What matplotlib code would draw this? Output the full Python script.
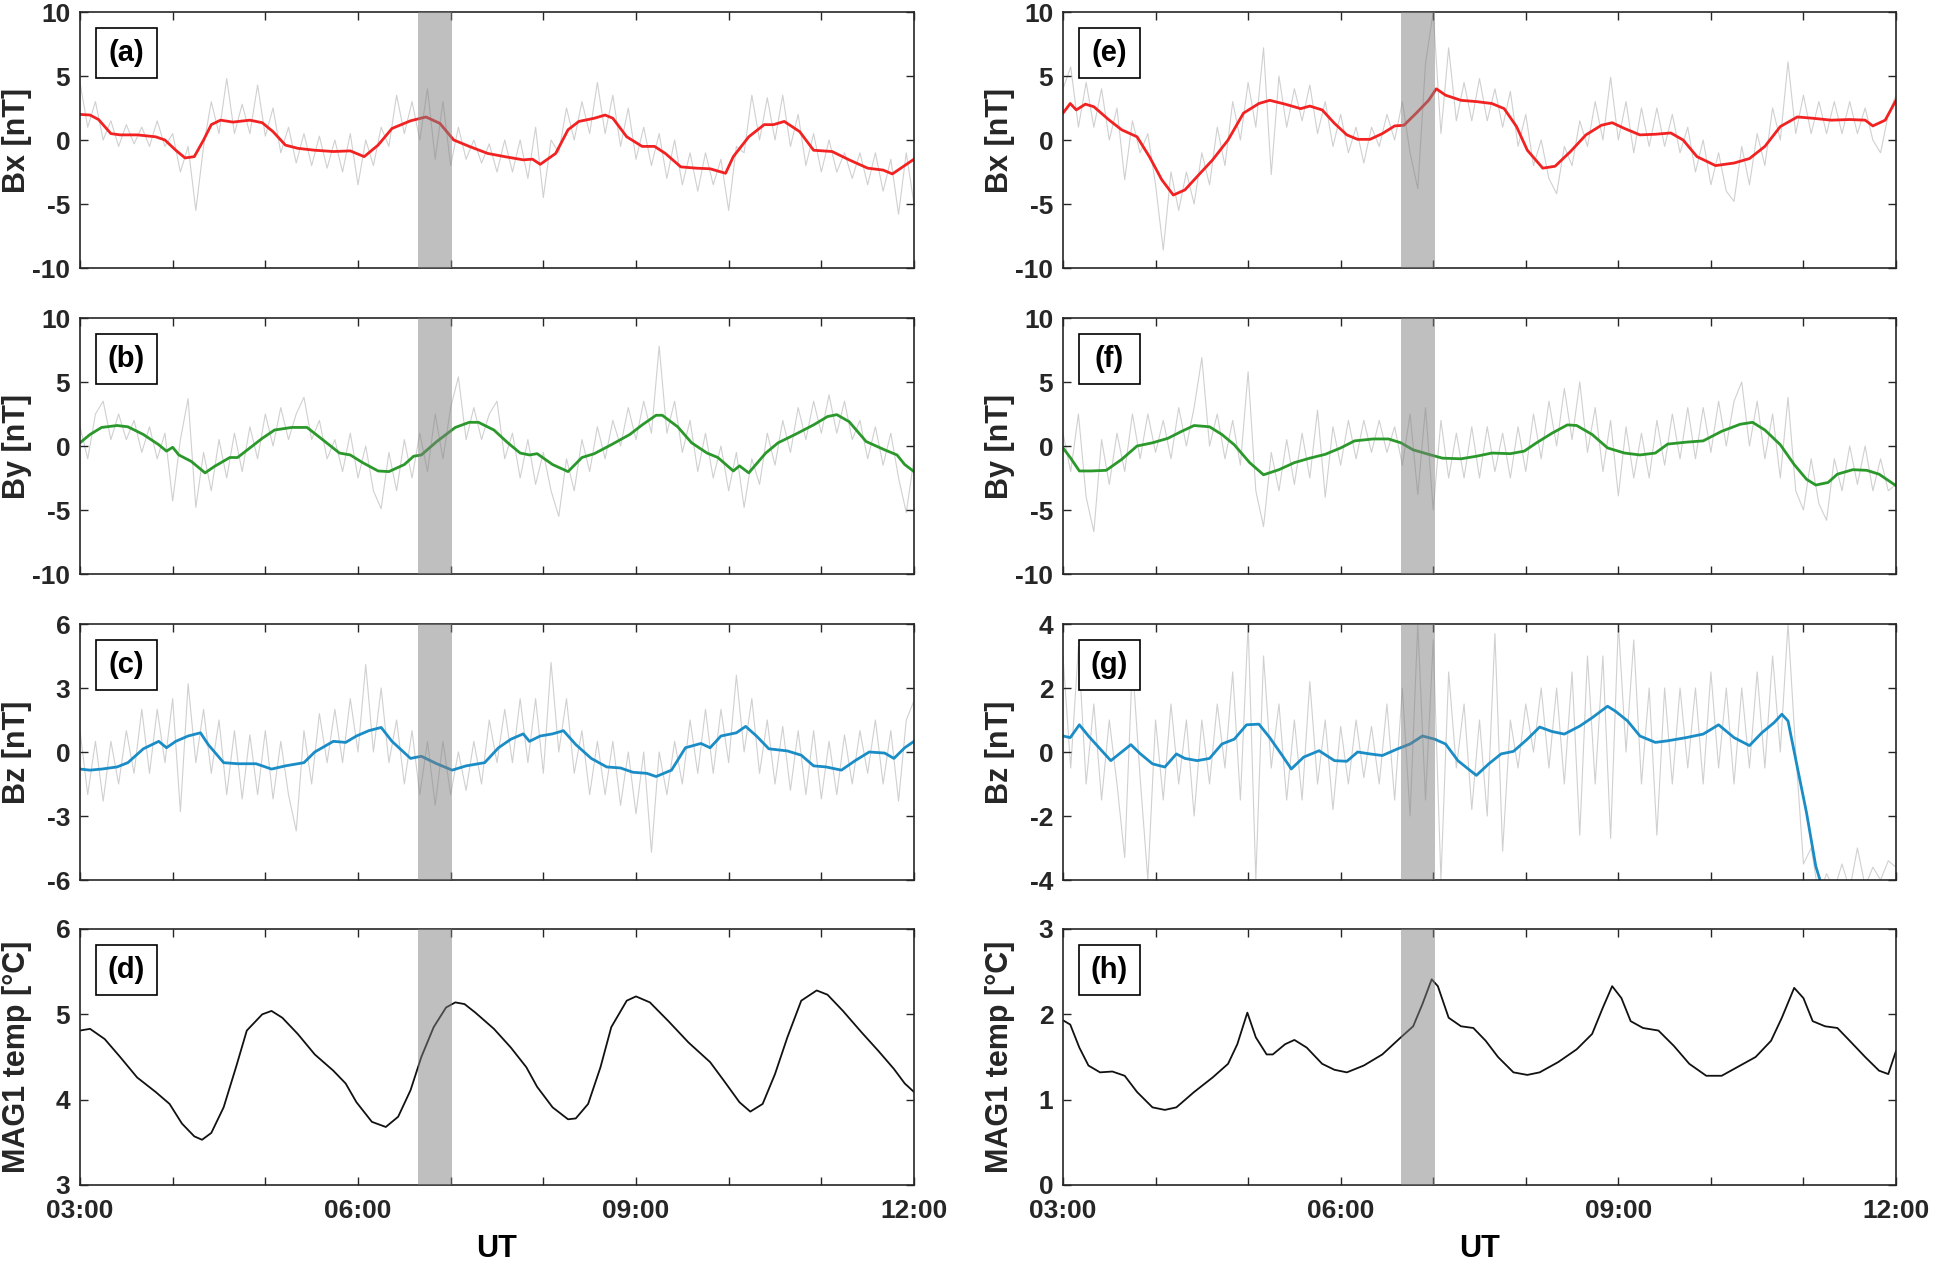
import matplotlib
matplotlib.use("Agg")
import matplotlib.pyplot as plt
from matplotlib.patches import Rectangle

plt.rcParams['font.family'] = ['Liberation Sans', 'DejaVu Sans']
plt.rcParams['font.weight'] = 'bold'

# ---------------- data (minutes after 03:00 UT) ----------------
span_start, span_end = 219, 241
xtick_pos = [0, 60, 120, 180, 240, 300, 360, 420, 480, 540]
xtick_lab = ['03:00', '', '', '06:00', '', '', '09:00', '', '', '12:00']
gray_t = list(range(0, 541, 5))

# panel (a) Bx left
a_t = [0, 6.5, 12, 20, 26, 37, 49, 55, 62, 68, 74, 80, 85, 91, 99, 110, 118, 125, 133, 141, 152, 164, 175, 184, 193,
       202, 214, 224, 233, 242, 252, 264, 275, 287, 293, 298, 308, 316, 323, 333, 340, 345, 354, 364, 372, 379, 389,
       399, 408, 418, 423, 433, 443, 449, 456, 466, 475, 487, 498, 510, 520, 526, 540]
a_v = [2.0, 1.95, 1.6, 0.5, 0.4, 0.4, 0.25, 0.0, -0.8, -1.4, -1.3, 0.0, 1.2, 1.55, 1.4, 1.55, 1.35, 0.65, -0.4, -0.65,
       -0.8, -0.9, -0.85, -1.3, -0.4, 0.9, 1.5, 1.8, 1.3, 0.0, -0.5, -1.05, -1.3, -1.55, -1.5, -1.9, -1.05, 0.8, 1.45,
       1.7, 1.95, 1.7, 0.25, -0.5, -0.5, -1.05, -2.1, -2.2, -2.25, -2.6, -1.3, 0.25, 1.2, 1.2, 1.45, 0.65, -0.8, -0.9,
       -1.55, -2.2, -2.35, -2.65, -1.5]
a_gray = [4.5, 1.0, 3.0, 0.0, 1.5, -0.5, 1.2, -0.3, 1.0, -0.5,
          1.5, -0.5, 0.5, -2.5, -0.5, -5.5, -0.5, 3.0, 0.5, 4.8,
          0.5, 2.8, 0.5, 4.3, 0.3, 2.5, -1.0, 1.0, -1.8, 0.5,
          -2.0, 0.3, -2.2, 0.0, -2.5, 0.5, -3.5, 0.0, -2.0, 1.0,
          -0.5, 3.5, 0.5, 3.0, 0.0, 4.0, -1.5, 3.0, -2.0, 1.0,
          -1.5, 0.0, -1.8, -0.3, -2.5, 0.0, -2.5, 0.0, -3.0, 1.0,
          -4.5, 0.0, -1.0, 2.5, 0.0, 3.0, 0.5, 4.5, 0.5, 3.5,
          -0.5, 2.5, -1.5, 1.0, -2.0, 0.5, -3.0, 0.0, -3.5, -1.0,
          -4.0, -1.0, -3.5, -1.5, -5.5, -0.5, -1.0, 3.5, 0.0, 3.3,
          0.0, 3.5, -0.5, 2.0, -2.0, 0.5, -2.5, 0.0, -2.5, -1.0,
          -3.0, -1.0, -3.5, -1.0, -4.0, -1.5, -5.8, -1.0, -5.0]

# panel (b) By left
b_t = [0, 6.5, 14, 24, 31, 41, 51, 56, 60, 64, 72, 81, 87, 97, 102, 110, 118, 126, 137, 147, 156, 168, 175, 183, 193,
       200, 210, 216, 221, 231, 243, 252, 258, 268, 277, 285, 291, 296, 306, 316, 325, 333, 344, 356, 364, 373, 377,
       387, 396, 406, 413, 423, 427, 433, 444, 452, 463, 475, 484, 490, 498, 509, 521, 529, 534, 540]
b_v = [0.25, 0.9, 1.45, 1.6, 1.5, 0.9, 0.1, -0.4, -0.1, -0.7, -1.2, -2.1, -1.6, -0.9, -0.9, -0.15, 0.6, 1.25, 1.45,
       1.45, 0.6, -0.55, -0.7, -1.3, -1.95, -2.0, -1.45, -0.8, -0.7, 0.35, 1.45, 1.85, 1.85, 1.25, 0.25, -0.55, -0.7,
       -0.6, -1.45, -2.0, -0.9, -0.6, 0.1, 0.9, 1.65, 2.4, 2.4, 1.5, 0.25, -0.55, -0.9, -1.95, -1.55, -2.1, -0.55,
       0.25, 0.9, 1.65, 2.3, 2.45, 1.9, 0.35, -0.3, -0.7, -1.45, -2.0]
b_gray = [1.5, -1.0, 2.5, 3.5, 0.5, 2.5, 0.5, 2.0, -0.5, 1.5,
          -1.0, 1.0, -4.3, 0.5, 3.7, -4.8, -0.5, -3.5, 0.5, -2.5,
          1.0, -2.0, 1.5, -1.0, 2.5, 0.0, 3.0, 0.5, 2.5, 3.8,
          0.5, 2.0, -1.0, 0.5, -2.0, 1.0, -2.5, 0.0, -3.5, -4.9,
          -0.5, -3.5, 0.5, -2.5, 1.0, -2.0, 2.5, -1.0, 3.0, 5.4,
          0.5, 3.0, 0.5, 2.5, 3.5, -1.0, 1.0, -2.5, 0.5, -3.0,
          -0.5, -3.5, -5.5, -1.0, -3.5, 0.5, -2.0, 1.5, -1.0, 2.0,
          0.0, 3.0, 0.5, 3.5, 1.0, 7.8, 1.0, 3.5, -0.5, 2.0,
          -2.0, 1.0, -2.5, 0.0, -3.5, -0.5, -4.8, -1.0, -3.0, 1.0,
          -1.5, 2.0, -0.5, 3.0, 0.5, 3.5, 1.0, 4.0, 1.0, 3.5,
          0.5, 2.0, -1.0, 1.5, -1.5, 1.0, -2.5, -5.2, -1.0]

# panel (c) Bz left
c_t = [0, 6.5, 14, 24, 31, 41, 51, 56, 62, 70, 78, 83, 93, 102, 114, 124, 133, 145, 152, 164, 172, 179, 187, 195, 202,
       214, 221, 231, 241, 250, 262, 271, 279, 287, 291, 298, 306, 313, 321, 331, 341, 350, 358, 367, 373, 383, 392,
       402, 408, 415, 425, 431, 438, 446, 458, 467, 475, 483, 493, 502, 511, 521, 527, 534, 540]
c_v = [-0.8, -0.85, -0.8, -0.7, -0.5, 0.15, 0.5, 0.2, 0.5, 0.75, 0.9, 0.35, -0.5, -0.55, -0.55, -0.8, -0.65, -0.5,
       0.0, 0.5, 0.45, 0.75, 1.0, 1.15, 0.5, -0.3, -0.2, -0.55, -0.85, -0.65, -0.5, 0.2, 0.6, 0.85, 0.5, 0.75, 0.85,
       1.0, 0.35, -0.3, -0.7, -0.75, -0.95, -1.0, -1.15, -0.85, 0.2, 0.4, 0.2, 0.75, 0.9, 1.2, 0.75, 0.15, 0.05, -0.15,
       -0.65, -0.7, -0.85, -0.4, 0.0, -0.05, -0.3, 0.2, 0.5]
c_gray = [1.0, -2.0, 0.5, -2.3, 0.5, -1.5, 1.0, -1.0, 2.0, -1.0,
          2.0, -0.5, 2.5, -2.8, 3.2, -0.5, 2.0, -1.0, 1.5, -2.0,
          1.0, -2.2, 0.8, -2.0, 1.0, -2.2, 0.5, -2.0, -3.7, 1.0,
          -1.5, 1.8, -0.5, 2.0, -0.5, 2.5, 0.0, 4.1, 0.0, 3.0,
          -0.5, 1.5, -1.5, 1.0, -2.0, 0.5, -2.5, 0.5, -2.0, 0.0,
          -1.8, 0.5, -1.5, 1.5, -0.5, 2.0, -0.5, 2.5, -0.5, 2.5,
          -1.0, 4.2, 0.0, 2.5, -1.0, 1.0, -2.0, 0.5, -2.0, 0.5,
          -2.5, 0.0, -2.9, 0.0, -4.7, 0.0, -2.0, 0.5, -1.5, 1.5,
          -1.0, 2.0, -1.0, 2.0, -0.5, 3.6, 0.0, 2.5, -1.0, 1.5,
          -1.5, 1.2, -1.8, 1.0, -2.0, 1.0, -2.2, 0.5, -2.0, 0.8,
          -1.5, 1.0, -1.0, 1.5, -1.5, 1.0, -2.3, 1.5, 2.4]

# panel (d) MAG1 temp left
d_t = [0, 6.5, 16, 26, 37, 49, 58, 66, 74, 79, 85, 93, 101, 108, 118, 124, 131, 141, 152, 164, 172, 179, 189, 198, 206,
       214, 221, 229, 237, 243, 249, 256, 268, 279, 289, 296, 306, 316, 321, 329, 337, 344, 354, 360, 369, 381, 394,
       408, 417, 427, 434, 442, 450, 458, 467, 477, 484, 494, 506, 517, 527, 534, 540]
d_v = [4.81, 4.83, 4.71, 4.5, 4.26, 4.09, 3.95, 3.72, 3.57, 3.53, 3.61, 3.91, 4.38, 4.81, 5.0, 5.04, 4.96, 4.77, 4.53,
       4.34, 4.19, 3.97, 3.74, 3.68, 3.8, 4.11, 4.5, 4.85, 5.08, 5.14, 5.12, 5.02, 4.83, 4.61, 4.38, 4.15, 3.91, 3.77,
       3.78, 3.95, 4.38, 4.85, 5.16, 5.21, 5.14, 4.92, 4.67, 4.44, 4.22, 3.97, 3.86, 3.95, 4.3, 4.73, 5.16, 5.28, 5.23,
       5.04, 4.79, 4.57, 4.36, 4.19, 4.09]

# panel (e) Bx right
e_t = [0, 4.7, 8.6, 14.5, 20, 30, 38, 48, 56, 64, 71.5, 79, 87, 97, 107, 117, 127, 134, 144, 154, 160, 168, 176, 184,
       191, 199, 207, 215, 221, 229, 237, 242, 248, 258, 268, 278, 286, 294, 301, 311, 319, 329, 339, 349, 356, 364,
       374, 384, 394, 402, 411, 423, 435, 445, 455, 465, 476, 486, 498, 510, 520, 525, 533, 540]
e_v = [2.1, 2.85, 2.35, 2.8, 2.6, 1.55, 0.8, 0.25, -1.3, -3.1, -4.3, -3.9, -2.85, -1.55, 0.0, 2.1, 2.85, 3.1, 2.8,
       2.45, 2.65, 2.35, 1.3, 0.4, 0.05, 0.05, 0.5, 1.1, 1.15, 2.1, 3.1, 4.0, 3.5, 3.1, 3.0, 2.85, 2.45, 1.05, -0.8,
       -2.2, -2.05, -0.9, 0.4, 1.15, 1.35, 0.9, 0.4, 0.45, 0.55, 0.0, -1.3, -2.0, -1.8, -1.45, -0.5, 1.05, 1.8, 1.7,
       1.55, 1.6, 1.55, 1.1, 1.55, 3.1]
e_gray = [4.0, 5.7, 1.0, 4.5, 1.0, 4.0, 0.0, 2.5, -3.1, 1.5,
          -1.0, 0.5, -3.5, -8.6, -2.5, -5.5, -2.5, -5.0, -1.0, -3.5,
          1.0, -2.0, 3.0, 0.0, 4.5, 1.0, 7.2, -2.7, 5.0, 1.0,
          4.0, 1.5, 4.3, 0.5, 3.0, -0.5, 2.0, -1.0, 1.0, -1.8,
          1.0, -0.5, 2.0, 0.0, 3.0, -1.0, -3.8, 6.0, 10.0, 0.5,
          7.2, 1.5, 4.5, 1.5, 4.8, 1.5, 4.0, 1.0, 3.8, -0.5,
          2.0, -2.0, 0.0, -3.0, -4.2, -0.5, -2.0, 1.5, -0.5, 3.0,
          0.0, 4.9, 0.0, 3.0, -1.0, 2.5, -0.5, 2.5, -0.5, 2.0,
          -1.0, 1.0, -2.5, 0.0, -3.5, -1.0, -4.0, -4.8, -0.5, -3.5,
          0.5, -2.0, 2.5, 0.0, 6.1, 0.5, 3.5, 0.5, 3.0, 0.5,
          3.0, 0.5, 3.0, 0.5, 2.5, 0.0, -1.0, 2.0, 3.5]

# panel (f) By right
f_t = [0, 4.7, 10.6, 18.5, 28, 38, 48, 58, 68, 77, 85, 95, 103, 111, 121, 130, 140, 150, 160, 170, 180, 189, 201, 211,
       219, 227, 237, 246, 258, 268, 278, 290, 299, 307, 317, 327, 333, 343, 353, 364, 374, 384, 392, 404, 415, 427,
       439, 447, 455, 465, 474, 482, 488, 496, 502, 512, 521, 529, 540]
f_v = [-0.15, -0.9, -1.95, -1.95, -1.9, -1.05, 0.0, 0.25, 0.6, 1.15, 1.6, 1.5, 0.9, 0.1, -1.3, -2.25, -1.85, -1.3,
       -0.95, -0.65, -0.15, 0.4, 0.55, 0.55, 0.25, -0.3, -0.65, -0.95, -1.0, -0.8, -0.55, -0.6, -0.4, 0.25, 1.0, 1.65,
       1.6, 0.9, -0.15, -0.55, -0.7, -0.55, 0.15, 0.3, 0.4, 1.15, 1.7, 1.85, 1.25, 0.1, -1.45, -2.6, -3.05, -2.85,
       -2.2, -1.85, -1.9, -2.2, -3.1]
f_gray = [1.0, -2.0, 2.5, -4.0, -6.7, 0.5, -3.0, 1.0, -2.0, 2.5,
          -1.0, 2.5, -0.5, 2.0, -1.0, 3.0, 0.0, 3.0, 6.9, 0.0,
          2.5, -1.0, 2.0, -1.5, 5.8, -3.5, -6.3, -0.5, -3.5, 0.5,
          -3.0, 1.0, -2.5, 2.8, -4.0, 1.5, -1.5, 2.0, -1.0, 2.0,
          -0.5, 2.0, -0.5, 1.5, -1.5, 2.5, -3.8, 3.0, -5.0, 2.0,
          -2.5, 1.0, -2.5, 1.5, -2.5, 1.5, -2.0, 1.0, -2.5, 1.5,
          -2.0, 2.5, -1.0, 3.5, 0.0, 4.5, 0.5, 5.0, -0.5, 3.0,
          -2.0, 2.0, -3.9, 1.5, -2.5, 1.0, -2.5, 2.0, -1.5, 2.5,
          -1.0, 3.0, -1.0, 3.0, -0.5, 3.5, 0.0, 3.5, 5.0, 0.0,
          3.5, -1.0, 2.5, -2.5, 3.8, -3.5, -5.0, -1.0, -4.5, -5.8,
          -1.0, -3.5, 0.0, -3.0, 0.0, -3.5, -1.0, -3.5, -3.0]

# panel (g) Bz right
g_t = [0, 4.7, 10.6, 16.5, 24, 31, 38, 44, 50, 58, 66, 73.5, 79, 87, 95, 103, 111, 119, 127, 134, 142, 148, 156, 166,
       176, 184, 191, 199, 207, 217, 225, 233, 241, 248, 256, 264, 268, 276, 284, 292, 301, 309, 317, 325, 335, 343,
       353, 358, 366, 374, 384, 392, 404, 415, 425, 435, 445, 453, 461, 466, 470, 476, 482, 488, 492, 500, 540]
g_v = [0.5, 0.45, 0.85, 0.5, 0.1, -0.27, 0.0, 0.23, -0.05, -0.37, -0.47, -0.06, -0.2, -0.27, -0.2, 0.25, 0.4, 0.85,
       0.87, 0.45, -0.1, -0.53, -0.16, 0.04, -0.27, -0.29, 0.0, -0.06, -0.11, 0.1, 0.25, 0.5, 0.4, 0.25, -0.27, -0.58,
       -0.73, -0.37, -0.06, 0.02, 0.4, 0.78, 0.64, 0.56, 0.81, 1.07, 1.43, 1.28, 0.97, 0.5, 0.3, 0.35, 0.45, 0.56,
       0.85, 0.45, 0.2, 0.6, 0.92, 1.18, 0.97, -0.47, -1.9, -3.57, -4.2, -5.0, -5.0]
g_gray = [3.0, -0.5, 3.3, -1.0, 1.5, -1.5, 1.0, -1.0, -3.3, 2.8,
          -0.8, -4.0, 1.0, -1.5, 1.5, -1.0, 1.0, -2.0, 1.0, -1.0,
          1.5, -0.5, 2.5, -1.5, 4.0, -4.0, 3.0, -0.5, 1.5, -1.5,
          1.0, -1.5, 2.2, -1.0, 1.0, -1.8, 0.8, -1.0, 1.0, -0.8,
          0.8, -1.0, 1.5, -1.5, 2.0, -2.0, 4.0, -1.5, 3.5, -4.0,
          2.5, -0.5, 1.5, -1.8, 1.0, -2.0, 3.7, -3.1, 1.0, -0.5,
          1.5, 0.0, 2.0, -0.5, 2.0, -1.0, 2.5, -2.6, 3.0, -1.0,
          3.0, -2.7, 4.0, 0.0, 3.5, -1.0, 2.0, -2.6, 2.0, -1.0,
          2.0, -0.5, 2.0, -1.0, 2.5, -0.5, 2.0, -1.0, 2.0, -0.5,
          2.5, -0.5, 3.0, 0.0, 4.0, 0.0, -3.5, -3.0, -4.5, -3.8,
          -4.3, -3.5, -4.3, -3.0, -4.2, -3.6, -4.0, -3.4, -3.6]

# panel (h) MAG1 temp right
h_t = [0, 4.7, 10.6, 16.5, 24, 32, 40, 48, 58, 66, 73.5, 85, 97, 107, 113, 119.5, 125, 132, 136, 144, 150, 158, 168,
       176, 184, 195, 207, 219, 227, 233, 239, 243, 250, 258, 266, 274, 282, 292, 301, 309, 321, 333, 343, 350, 356,
       362, 368, 376, 386, 396, 406, 417, 427, 437, 449, 459, 466, 474, 480, 486, 494, 502, 510, 520, 529, 535, 540]
h_v = [1.93, 1.88, 1.61, 1.4, 1.32, 1.33, 1.28, 1.09, 0.91, 0.88, 0.91, 1.09, 1.26, 1.42, 1.65, 2.02, 1.73, 1.53,
       1.53, 1.65, 1.7, 1.61, 1.42, 1.35, 1.32, 1.4, 1.53, 1.73, 1.86, 2.12, 2.41, 2.33, 1.96, 1.86, 1.84, 1.69, 1.5,
       1.32, 1.29, 1.32, 1.44, 1.59, 1.77, 2.08, 2.33, 2.19, 1.92, 1.84, 1.81, 1.63, 1.42, 1.28, 1.28, 1.38, 1.5,
       1.69, 1.96, 2.31, 2.19, 1.92, 1.86, 1.84, 1.69, 1.5, 1.34, 1.3, 1.57]

panels = [
    # letter, t, v, gray, color, ylabel, ylim, yticks, col, row
    ('(a)', a_t, a_v, a_gray, '#f22222', 'Bx [nT]', (-10, 10), [-10, -5, 0, 5, 10], 0, 0),
    ('(b)', b_t, b_v, b_gray, '#2a982a', 'By [nT]', (-10, 10), [-10, -5, 0, 5, 10], 0, 1),
    ('(c)', c_t, c_v, c_gray, '#1a8cc6', 'Bz [nT]', (-6, 6), [-6, -3, 0, 3, 6], 0, 2),
    ('(d)', d_t, d_v, None, '#111111', 'MAG1 temp [°C]', (3, 6), [3, 4, 5, 6], 0, 3),
    ('(e)', e_t, e_v, e_gray, '#f22222', 'Bx [nT]', (-10, 10), [-10, -5, 0, 5, 10], 1, 0),
    ('(f)', f_t, f_v, f_gray, '#2a982a', 'By [nT]', (-10, 10), [-10, -5, 0, 5, 10], 1, 1),
    ('(g)', g_t, g_v, g_gray, '#1a8cc6', 'Bz [nT]', (-4, 4), [-4, -2, 0, 2, 4], 1, 2),
    ('(h)', h_t, h_v, None, '#111111', 'MAG1 temp [°C]', (0, 3), [0, 1, 2, 3], 1, 3),
]

# ---------------- layout / style ----------------
W, H = 1934, 1263
fig = plt.figure(figsize=(W / 100, H / 100), dpi=100)
col_left = [80, 1063]
col_width = [834, 833]
row_top = [12, 318, 624, 929]
row_h = 256
frame = '#262626'

for letter, t, v, gray, color, ylab, ylim, yticks, col, row in panels:
    ax = fig.add_axes([col_left[col] / W, 1 - (row_top[row] + row_h) / H,
                       col_width[col] / W, row_h / H])
    if gray is not None:
        ax.plot(gray_t, gray, color='#d0d0d0', lw=0.8, zorder=1)
        lw = 2.0
    else:
        lw = 1.3
    ax.plot(t, v, color=color, lw=lw, zorder=2)
    ax.axvspan(span_start, span_end, color='#808080', alpha=0.5, lw=0, zorder=3)
    ax.set_xlim(0, 540)
    ax.set_ylim(*ylim)
    ax.set_yticks(yticks)
    ax.set_yticklabels([str(y) for y in yticks])
    ax.set_xticks(xtick_pos)
    if row == 3:
        ax.set_xticklabels(xtick_lab)
        ax.set_xlabel('UT', fontsize=22, fontweight='bold', labelpad=8)
    else:
        ax.set_xticklabels([])
    ax.tick_params(direction='in', length=6, width=1.0, top=True, right=True,
                   labelsize=19, colors=frame, labelcolor=frame)
    ax.tick_params(axis='x', pad=10)
    ax.tick_params(axis='y', pad=7)
    for s in ax.spines.values():
        s.set_color(frame)
        s.set_linewidth(1.2)
    ax.set_ylabel(ylab, fontsize=22, fontweight='bold', color=frame)
    ax.yaxis.set_label_coords(-0.058, 0.5)
    ax.add_patch(Rectangle((0.019, 0.742), 0.073, 0.195, transform=ax.transAxes,
                           facecolor='white', edgecolor='black', lw=1.2, zorder=5))
    ax.text(0.0555, 0.84, letter, transform=ax.transAxes, ha='center', va='center',
            fontsize=21, fontweight='bold', color='black', zorder=6)

fig.savefig('out.png', dpi=100)
